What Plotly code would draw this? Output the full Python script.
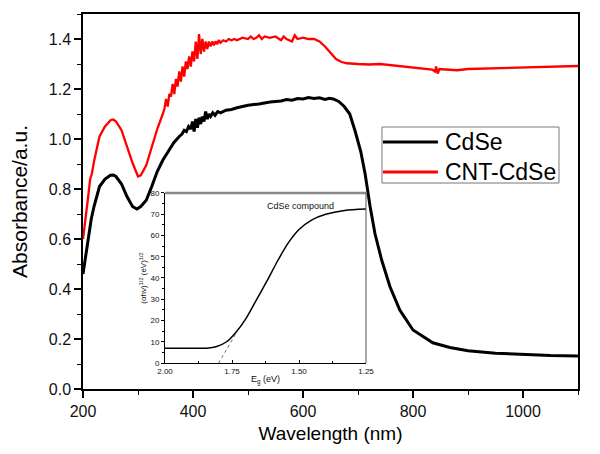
import plotly.graph_objects as go

# ---------------- data ----------------
cdse_wl = [200, 205, 210, 215, 220, 225, 230, 240, 250, 255, 260, 270, 280, 290, 298,
           305, 315, 325, 335, 345, 355, 365, 375, 380, 384, 388, 392, 396, 399, 402,
           405, 408, 411, 414, 417, 420, 423, 426, 429, 432, 436, 440, 445, 450, 460,
           470, 480, 500, 520, 540, 560, 570, 580, 590, 600, 610, 620, 630, 640, 648,
           655, 665, 675, 685, 695, 705, 713, 722, 731, 743, 758, 776, 800, 836, 867,
           900, 950, 1000, 1050, 1100]
cdse_abs = [0.46, 0.53, 0.60, 0.68, 0.73, 0.77, 0.81, 0.84, 0.855, 0.856, 0.85, 0.82, 0.77, 0.73, 0.72,
            0.73, 0.755, 0.81, 0.87, 0.915, 0.95, 0.985, 1.01, 1.02, 1.035, 1.03, 1.05, 1.04, 1.07, 1.03,
            1.08, 1.045, 1.085, 1.06, 1.09, 1.07, 1.11, 1.08, 1.10, 1.09, 1.105, 1.095, 1.11, 1.105, 1.115,
            1.118, 1.125, 1.135, 1.14, 1.148, 1.152, 1.158, 1.155, 1.162, 1.16, 1.166, 1.162, 1.165, 1.158, 1.163,
            1.16, 1.15, 1.13, 1.10, 1.03, 0.95, 0.86, 0.73, 0.62, 0.516, 0.41, 0.316, 0.236, 0.185, 0.166,
            0.153, 0.143, 0.137, 0.134, 0.132]

cnt_wl = [200, 205, 210, 213, 216, 220, 230, 240, 250, 255, 260, 270, 280, 290, 300,
          305, 315, 325, 335, 345, 348, 351, 354, 357, 360, 363, 366, 369, 372, 375,
          378, 381, 384, 387, 390, 393, 396, 399, 402, 405, 408, 411, 414, 417, 420,
          423, 426, 429, 432, 435, 438, 441, 444, 447, 450, 455, 460, 465, 470, 475,
          480, 490, 500, 505, 510, 515, 520, 525, 530, 540, 550, 560, 565, 570, 580,
          585, 590, 600, 610, 620, 630, 640, 650, 660, 670, 680, 700, 720, 740, 760,
          780, 800, 820, 835, 840, 842, 845, 848, 860, 880, 900, 940, 980, 1020, 1060,
          1100]
cnt_abs = [0.60, 0.68, 0.78, 0.84, 0.86, 0.91, 1.01, 1.05, 1.075, 1.078, 1.07, 1.035, 0.97, 0.905, 0.85,
           0.855, 0.895, 0.97, 1.04, 1.10, 1.12, 1.16, 1.13, 1.18, 1.17, 1.22, 1.18, 1.24, 1.21, 1.27,
           1.23, 1.29, 1.25, 1.31, 1.28, 1.33, 1.29, 1.35, 1.31, 1.39, 1.32, 1.42, 1.34, 1.40, 1.35,
           1.39, 1.36, 1.39, 1.37, 1.39, 1.375, 1.39, 1.38, 1.395, 1.385, 1.395, 1.39, 1.40, 1.395, 1.40,
           1.395, 1.405, 1.40, 1.41, 1.40, 1.405, 1.415, 1.40, 1.41, 1.405, 1.41, 1.395, 1.41, 1.40, 1.39,
           1.415, 1.40, 1.405, 1.40, 1.40, 1.39, 1.37, 1.345, 1.32, 1.308, 1.303, 1.30, 1.298, 1.30, 1.295,
           1.292, 1.288, 1.283, 1.278, 1.27, 1.29, 1.262, 1.28, 1.278, 1.275, 1.28, 1.283, 1.285, 1.287, 1.289,
           1.292]

# inset: Tauc plot
inset_e = [2.00, 1.90, 1.845, 1.807, 1.770, 1.735, 1.70, 1.664, 1.62, 1.58, 1.54, 1.50, 1.45, 1.40, 1.33, 1.25]
inset_v = [6.9, 6.9, 7.0, 7.8, 10.0, 14.5, 20.5, 28.5, 38.5, 48.0, 56.5, 62.8, 67.5, 70.0, 71.8, 72.5]
tangent_e = [1.80, 1.73]
tangent_v = [0.0, 15.0]

x_ticks = [200, 400, 600, 800, 1000]
y_ticks = [0.0, 0.2, 0.4, 0.6, 0.8, 1.0, 1.2, 1.4]
inset_x_ticks = [2.00, 1.75, 1.50, 1.25]
inset_y_ticks = [0, 10, 20, 30, 40, 50, 60, 70, 80]

FONT = "Liberation Sans, Arial, sans-serif"

fig = go.Figure()
fig.add_trace(go.Scatter(x=cdse_wl, y=cdse_abs, mode="lines", name="CdSe",
                         line=dict(color="black", width=3), showlegend=False))
fig.add_trace(go.Scatter(x=cnt_wl, y=cnt_abs, mode="lines", name="CNT-CdSe",
                         line=dict(color="#ff0000", width=2.3), showlegend=False))
fig.add_trace(go.Scatter(x=inset_e, y=inset_v, mode="lines", xaxis="x2", yaxis="y2",
                         line=dict(color="black", width=1.5, shape="spline", smoothing=0.8),
                         showlegend=False))
fig.add_trace(go.Scatter(x=tangent_e, y=tangent_v, mode="lines", xaxis="x2", yaxis="y2",
                         line=dict(color="#444", width=0.8, dash="dot"), showlegend=False))

axis_common = dict(showgrid=False, zeroline=False, showline=True, linecolor="black",
                   linewidth=1.5, mirror=True, ticks="outside", tickcolor="black",
                   tickwidth=1.5, ticklen=7, automargin=False,
                   tickfont=dict(family=FONT, size=16, color="#111"))

# The page body has an 8px margin: figure is sized to fit inside the 600x454 window.
fig.update_layout(
    width=584, height=438,
    margin=dict(l=75, r=14, t=6, b=57),
    paper_bgcolor="white", plot_bgcolor="white",
    font=dict(family=FONT, color="black"),
    xaxis=dict(range=[200, 1100], tickvals=x_ticks,
               title=dict(text="Wavelength (nm)", standoff=8,
                          font=dict(family=FONT, size=19, color="black")),
               minor=dict(dtick=100, ticks="outside", ticklen=4, tickcolor="black", tickwidth=1.2),
               **axis_common),
    yaxis=dict(range=[0, 1.5], tickvals=y_ticks, tickformat=".1f",
               title=dict(text="Absorbance/a.u.", standoff=20,
                          font=dict(family=FONT, size=21, color="black")),
               minor=dict(dtick=0.1, ticks="outside", ticklen=4, tickcolor="black", tickwidth=1.2),
               **axis_common),
    xaxis2=dict(domain=[0.1657, 0.5717], anchor="y2", range=[2.0, 1.25],
                tickvals=inset_x_ticks, tickformat=".2f", showgrid=False, zeroline=False,
                showline=True, linecolor="black", linewidth=1, ticks="inside", ticklen=3,
                tickcolor="black", tickwidth=1, automargin=False,
                title=dict(text="E<sub>g</sub> (eV)", standoff=1,
                           font=dict(family=FONT, size=9, color="#111")),
                minor=dict(dtick=0.125, tick0=2.0, ticks="inside", ticklen=2, tickcolor="black"),
                tickfont=dict(family=FONT, size=8, color="#111")),
    yaxis2=dict(domain=[0.0693, 0.5227], anchor="x2", range=[0, 80],
                tickvals=inset_y_ticks, showgrid=False, zeroline=False,
                showline=True, linecolor="black", linewidth=1, ticks="outside", ticklen=3,
                tickcolor="black", tickwidth=1, automargin=False,
                title=dict(text="(αhν)<sup>1/2</sup> (eV)<sup>1/2</sup>", standoff=2,
                           font=dict(family=FONT, size=8, color="#111")),
                minor=dict(dtick=5, ticks="outside", ticklen=2, tickcolor="black"),
                tickfont=dict(family=FONT, size=8, color="#111")),
)

shapes = [
    # inset top & right borders
    dict(type="line", xref="x2 domain", yref="y2 domain", x0=0, x1=1, y0=1, y1=1,
         line=dict(color="#888", width=2.5)),
    dict(type="line", xref="x2 domain", yref="y2 domain", x0=1, x1=1, y0=0, y1=1,
         line=dict(color="#555", width=1)),
    # legend box
    dict(type="rect", xref="paper", yref="paper", x0=0.604, x1=0.9616, y0=0.5493, y1=0.6987,
         line=dict(color="#777", width=1), fillcolor="rgba(255,255,255,0)"),
    dict(type="line", xref="paper", yref="paper", x0=0.606, x1=0.717, y0=0.6587, y1=0.6587,
         line=dict(color="black", width=3)),
    dict(type="line", xref="paper", yref="paper", x0=0.606, x1=0.717, y0=0.5787, y1=0.5787,
         line=dict(color="#ff0000", width=3)),
]
fig.update_layout(shapes=shapes)

annotations = [
    dict(text="CdSe", xref="paper", yref="paper", x=0.7273, y=0.6587, xanchor="left",
         yanchor="middle", showarrow=False, font=dict(family=FONT, size=23, color="black")),
    dict(text="CNT-CdSe", xref="paper", yref="paper", x=0.7273, y=0.5787, xanchor="left",
         yanchor="middle", showarrow=False, font=dict(family=FONT, size=23, color="black")),
    dict(text="CdSe compound", xref="x2", yref="y2", x=1.496, y=74, xanchor="center",
         yanchor="middle", showarrow=False, font=dict(family=FONT, size=9, color="#111")),
]
fig.update_layout(annotations=annotations)

fig.write_html("out.html")
